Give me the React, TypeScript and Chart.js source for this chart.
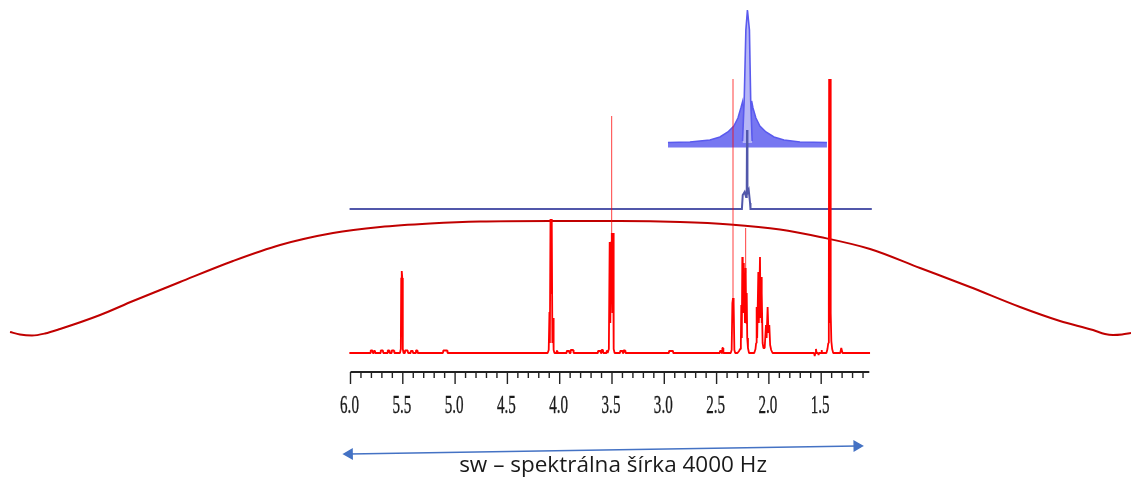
import React, { useEffect, useRef } from 'react';
import { Chart, registerables } from 'chart.js';

Chart.register(...registerables);

// ---- scale ranges (ppm reversed, intensity in arbitrary units) ----
const X_MIN = -1.462;
const X_MAX = 9.351;
const Y_MIN = -130;
const Y_MAX = 353;

// ---- ppm axis ----
const majorTicks = [6.0, 5.5, 5.0, 4.5, 4.0, 3.5, 3.0, 2.5, 2.0, 1.5];
const tickLabels = ['6.0', '5.5', '5.0', '4.5', '4.0', '3.5', '3.0', '2.5', '2.0', '1.5'];
const minorTicks = [
  5.9, 5.8, 5.7, 5.6, 5.4, 5.3, 5.2, 5.1, 4.9, 4.8, 4.7, 4.6, 4.4, 4.3, 4.2, 4.1,
  3.9, 3.8, 3.7, 3.6, 3.4, 3.3, 3.2, 3.1, 2.9, 2.8, 2.7, 2.6, 2.4, 2.3, 2.2, 2.1,
  1.9, 1.8, 1.7, 1.6, 1.4, 1.3, 1.2, 1.1,
];
const AXIS_START = 6.0;
const AXIS_END = 1.04;
const AXIS_LEVEL = -19;
const LABEL_LEVEL = -60;

// ---- caption + arrow ----
const captionText = 'sw – spektrálna šírka 4000 Hz';
const CAPTION_PPM = 3.49;
const CAPTION_LEVEL = -119.3;
const arrowLine: [number, number][] = [
  [6.011, -101],
  [1.158, -93],
];
const arrowRotation = [269.1, 89.1];

// ---- red 1H spectrum (ppm, intensity) ----
const redSpectrum: [number, number][] = [
  [6.011, 0],
  [5.81, 0], [5.807, 2.5], [5.79, 2.5], [5.787, 0],
  [5.779, 0], [5.776, 2], [5.766, 2], [5.763, 0],
  [5.714, 0], [5.711, 2.5], [5.69, 2.5], [5.687, 0],
  [5.647, 0], [5.644, 2.5], [5.629, 2.5], [5.626, 0],
  [5.609, 0], [5.606, 2.5], [5.584, 2.5], [5.581, 0],
  [5.527, 0], [5.519, 4], [5.515, 75], [5.512, 82], [5.508, 82], [5.505, 75], [5.5, 4], [5.493, 0],
  [5.482, 0], [5.479, 2.5], [5.453, 2.5], [5.45, 0],
  [5.427, 0], [5.424, 2], [5.405, 2], [5.402, 0],
  [5.377, 0], [5.374, 2.5], [5.361, 2.5], [5.358, 0],
  [5.116, 0], [5.113, 2.5], [5.075, 2.5], [5.072, 0],
  [4.115, 0], [4.105, 3], [4.098, 41], [4.094, 10], [4.088, 134], [4.082, 60], [4.076, 134], [4.07, 10], [4.064, 35], [4.058, 3], [4.05, 0],
  [4.032, 0], [4.029, 2], [4.024, 2], [4.021, 0],
  [3.936, 0], [3.933, 2], [3.91, 2], [3.907, 0],
  [3.898, 0], [3.895, 3], [3.87, 3], [3.867, 0],
  [3.637, 0], [3.634, 2], [3.61, 2], [3.607, 0],
  [3.603, 0], [3.6, 3], [3.586, 3], [3.583, 0],
  [3.554, 0], [3.551, 2], [3.546, 2], [3.543, 0],
  [3.54, 0], [3.53, 4], [3.522, 111], [3.516, 30], [3.508, 111], [3.502, 120], [3.496, 40], [3.49, 120], [3.484, 4], [3.475, 0],
  [3.424, 0], [3.421, 2], [3.4, 2], [3.397, 0],
  [3.393, 0], [3.39, 2.5], [3.374, 2.5], [3.371, 0],
  [2.958, 0], [2.955, 2], [2.917, 2], [2.914, 0],
  [2.47, 0], [2.467, 2], [2.455, 2], [2.452, 0],
  [2.448, 0], [2.445, 5], [2.438, 5], [2.435, 0],
  [2.365, 0], [2.356, 3], [2.349, 50], [2.343, 55], [2.337, 50], [2.33, 3], [2.322, 0],
  [2.3, 0], [2.285, 2], [2.275, 4], [2.268, 10], [2.264, 48], [2.259, 15], [2.254, 96], [2.25, 40], [2.245, 90], [2.24, 40], [2.235, 80], [2.229, 30], [2.222, 85], [2.217, 30], [2.212, 60], [2.207, 15], [2.2, 5], [2.19, 0],
  [2.14, 0], [2.128, 4], [2.122, 10], [2.117, 46], [2.112, 15], [2.101, 81], [2.096, 30], [2.085, 96], [2.08, 35], [2.075, 76], [2.071, 30], [2.066, 60], [2.06, 10], [2.052, 5],
  [2.04, 5], [2.028, 28], [2.022, 15], [2.012, 46], [2.004, 20], [1.996, 28], [1.988, 8], [1.978, 3], [1.965, 0],
  [1.568, 0], [1.562, -3], [1.556, 0], [1.55, 4], [1.544, 0], [1.53, 0], [1.525, -2], [1.52, 0], [1.5, 0], [1.495, 3], [1.492, 0],
  [1.45, 0], [1.44, 4], [1.432, 10], [1.427, 48], [1.424, 274], [1.419, 30], [1.414, 274], [1.409, 40], [1.403, 12], [1.395, 4], [1.385, 0],
  [1.318, 0], [1.308, 5], [1.302, 5], [1.296, 0],
  [1.033, 0],
];

// thin tall lines of the red spectrum
const redThin: [number, number | null][] = [
  [3.503, 110], [3.503, 237], [3.4, null],
  [2.343, 50], [2.343, 274], [2.3, null],
  [2.222, 80], [2.222, 125],
];

// ---- dark red filter profile ----
const filterCurve: [number, number][] = [
  [9.255, 21], [9.16, 18.5], [9.045, 17.5], [8.921, 19.5], [8.777, 24], [8.394, 38],
  [8.079, 52], [7.63, 71], [7.123, 92], [6.673, 108], [6.167, 120], [5.717, 126],
  [5.239, 129.5], [4.761, 131.5], [4.092, 132], [3.423, 132], [2.849, 131], [2.372, 128.5],
  [1.894, 123.5], [1.511, 116], [1.033, 104], [0.555, 85], [0.077, 66], [-0.401, 46],
  [-0.783, 32], [-1.099, 23], [-1.213, 19], [-1.29, 18], [-1.376, 18.5], [-1.462, 20],
];

// ---- navy (selective) trace ----
const navyTrace: [number, number][] = [
  [6.009, 144], [2.258, 144], [2.25, 158], [2.232, 161], [2.218, 156], [2.212, 160],
  [2.209, 223], [2.205, 160], [2.193, 163], [2.18, 150], [2.176, 144], [1.016, 144],
];

// ---- light blue (excitation profile) ----
const BLUE_BASE = 205.5;
const blueWing: [number, number][] = [
  [2.965, 210.5], [2.755, 211], [2.564, 213], [2.468, 216], [2.392, 221], [2.335, 227],
  [2.296, 235], [2.268, 245], [2.25, 252], [2.241, 243], [2.171, 243], [2.165, 252],
  [2.152, 245], [2.124, 235], [2.086, 227], [2.028, 221], [1.951, 216], [1.856, 213],
  [1.703, 211], [1.445, 210.5],
];
const PEAK_BASE = 210;
const bluePeak: [number, number][] = [
  [2.252, 212], [2.236, 253], [2.22, 323], [2.205, 343], [2.186, 323], [2.174, 253], [2.16, 212],
];

const pts = (arr: [number, number | null][]) => arr.map(([x, y]) => ({ x, y }));

const axisPlugin = {
  id: 'ppmAxis',
  afterDatasetsDraw(chart: any) {
    const { ctx } = chart;
    const xs = chart.scales.x;
    const ys = chart.scales.y;
    const yA = ys.getPixelForValue(AXIS_LEVEL);
    ctx.save();
    ctx.strokeStyle = '#222';
    ctx.lineWidth = 2;
    ctx.beginPath();
    ctx.moveTo(xs.getPixelForValue(AXIS_START), yA);
    ctx.lineTo(xs.getPixelForValue(AXIS_END), yA);
    ctx.stroke();
    ctx.lineWidth = 1.4;
    ctx.beginPath();
    majorTicks.forEach((v) => {
      const px = xs.getPixelForValue(v);
      ctx.moveTo(px, yA);
      ctx.lineTo(px, yA + 12);
    });
    minorTicks.forEach((v) => {
      const px = xs.getPixelForValue(v);
      ctx.moveTo(px, yA);
      ctx.lineTo(px, yA + 6);
    });
    ctx.stroke();

    const yL = ys.getPixelForValue(LABEL_LEVEL);
    ctx.fillStyle = '#1a1a1a';
    ctx.strokeStyle = '#1a1a1a';
    ctx.lineWidth = 0.35;
    ctx.font = '26px "Liberation Serif", serif';
    ctx.textAlign = 'center';
    ctx.textBaseline = 'alphabetic';
    majorTicks.forEach((v, i) => {
      const px = xs.getPixelForValue(v) - 1;
      ctx.save();
      ctx.translate(px, yL);
      ctx.scale(0.58, 1);
      ctx.fillText(tickLabels[i], 0, 0);
      ctx.strokeText(tickLabels[i], 0, 0);
      ctx.restore();
    });

    ctx.fillStyle = '#1a1a1a';
    ctx.font = '22.5px "Open Sans", sans-serif';
    ctx.fillText(captionText, xs.getPixelForValue(CAPTION_PPM), ys.getPixelForValue(CAPTION_LEVEL));
    ctx.restore();
  },
};

export default function App() {
  const ref = useRef<HTMLCanvasElement | null>(null);
  useEffect(() => {
    if (!ref.current) return;
    const chart = new Chart(ref.current, {
      type: 'line',
      data: {
        datasets: [
          {
            label: 'red thin',
            data: pts(redThin),
            borderColor: 'rgba(255,0,0,0.75)',
            borderWidth: 1,
            pointRadius: 0,
            spanGaps: false,
            order: 0,
          } as any,
          {
            label: 'red',
            data: pts(redSpectrum),
            borderColor: '#ff0000',
            borderWidth: 1.8,
            borderJoinStyle: 'bevel',
            pointRadius: 0,
            order: 1,
          },
          {
            label: 'navy',
            data: pts(navyTrace),
            borderColor: '#5157aa',
            borderWidth: 2,
            pointRadius: 0,
            order: 2,
          },
          {
            label: 'blue peak',
            data: pts(bluePeak),
            borderColor: '#5a5aee',
            backgroundColor: '#b6b6f6',
            borderWidth: 1.6,
            fill: { value: PEAK_BASE },
            pointRadius: 0,
            order: 3,
          },
          {
            label: 'blue wing',
            data: pts(blueWing),
            borderColor: '#5a5aee',
            backgroundColor: 'rgba(95,95,238,0.85)',
            borderWidth: 1.5,
            fill: { value: BLUE_BASE },
            pointRadius: 0,
            order: 4,
          },
          {
            label: 'filter',
            data: pts(filterCurve),
            borderColor: '#c00000',
            borderWidth: 2,
            cubicInterpolationMode: 'monotone',
            pointRadius: 0,
            order: 5,
          },
          {
            label: 'arrow',
            data: pts(arrowLine),
            borderColor: '#4472c4',
            backgroundColor: '#4472c4',
            borderWidth: 1.5,
            pointStyle: 'triangle',
            pointRadius: 5.5,
            pointRotation: arrowRotation,
            order: 6,
          },
        ],
      },
      options: {
        animation: false,
        responsive: true,
        maintainAspectRatio: false,
        layout: { padding: 0, autoPadding: false },
        plugins: { legend: { display: false }, tooltip: { enabled: false } },
        events: [],
        scales: {
          x: { type: 'linear', min: X_MIN, max: X_MAX, reverse: true, display: false },
          y: { type: 'linear', min: Y_MIN, max: Y_MAX, display: false },
        },
      },
      plugins: [axisPlugin],
    } as any);
    return () => chart.destroy();
  }, []);

  return (
    <div style={{ position: 'absolute', left: 0, top: 0, width: 1131, height: 483, background: '#fff' }}>
      <canvas ref={ref} />
    </div>
  );
}
